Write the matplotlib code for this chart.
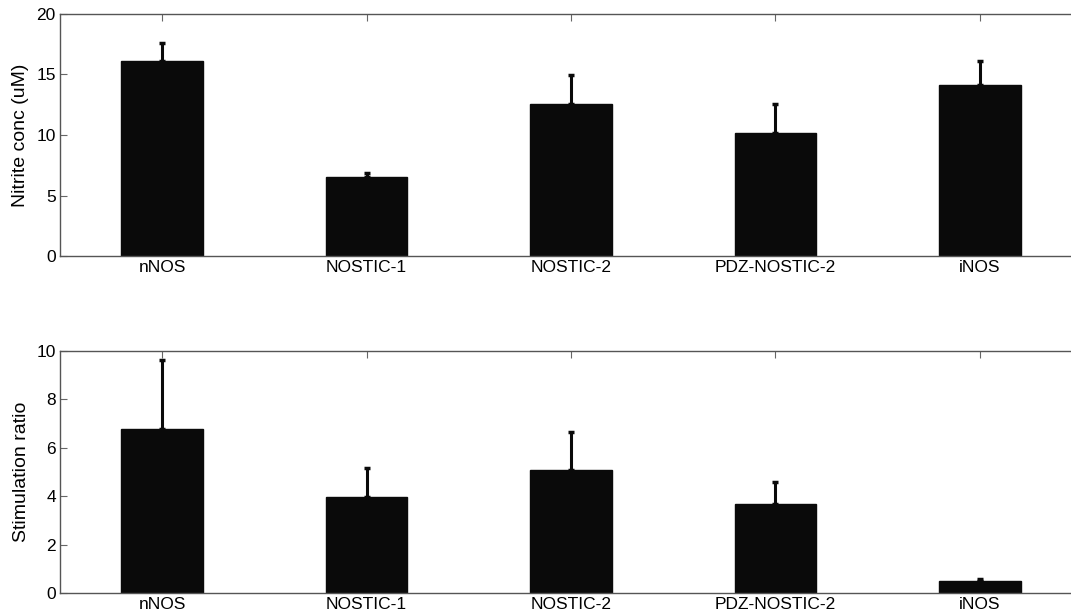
import matplotlib
matplotlib.use("Agg")
import matplotlib.pyplot as plt
import numpy as np

plt.rcParams['font.family'] = ['Liberation Sans', 'DejaVu Sans']

categories = ["nNOS", "NOSTIC-1", "NOSTIC-2", "PDZ-NOSTIC-2", "iNOS"]
nitrite_mean = [16.1, 6.5, 12.6, 10.2, 14.1]
nitrite_err = [1.5, 0.35, 2.35, 2.4, 2.0]
stim_mean = [6.78, 3.96, 5.07, 3.69, 0.51]
stim_err = [2.84, 1.2, 1.57, 0.91, 0.08]

nitrite_ticks = [0, 5, 10, 15, 20]
stim_ticks = [0, 2, 4, 6, 8, 10]

W, H = 1071, 615
fig = plt.figure(figsize=(W / 100, H / 100), dpi=100)

def make_ax(rect, means, errs, yticks, ylim, ylabel):
    ax = fig.add_axes(rect)
    x = np.arange(1, len(categories) + 1)
    ax.bar(x, means, width=0.4, color='#0a0a0a', edgecolor='#0a0a0a', zorder=2)
    ax.errorbar(x, means, yerr=[np.zeros(len(errs)), errs], fmt='none',
                ecolor='#0a0a0a', elinewidth=2.2, capsize=2.5, capthick=2.5, zorder=3)
    ax.set_xlim(0.5, 5.5)
    ax.set_ylim(*ylim)
    ax.set_xticks(x)
    ax.set_xticklabels(categories, fontsize=12.5)
    ax.set_yticks(yticks)
    ax.set_yticklabels([str(t) for t in yticks], fontsize=12.5)
    ax.set_ylabel(ylabel, fontsize=14, labelpad=5)
    ax.tick_params(axis='both', direction='in', length=5, width=0.8, color='#666666',
                   top=True, right=True, pad=3)
    ax.tick_params(axis='x', pad=3)
    for s in ax.spines.values():
        s.set_color('#555555')
        s.set_linewidth(1.0)
    return ax

left = 60 / W
right = 1082 / W
ax1 = make_ax([left, (H - 256) / H, right - left, (256 - 14) / H],
              nitrite_mean, nitrite_err, nitrite_ticks, (0, 20), "Nitrite conc (uM)")
ax2 = make_ax([left, (H - 593.3) / H, right - left, (593.3 - 350.7) / H],
              stim_mean, stim_err, stim_ticks, (0, 10), "Stimulation ratio")

fig.savefig("out.png", dpi=100)
